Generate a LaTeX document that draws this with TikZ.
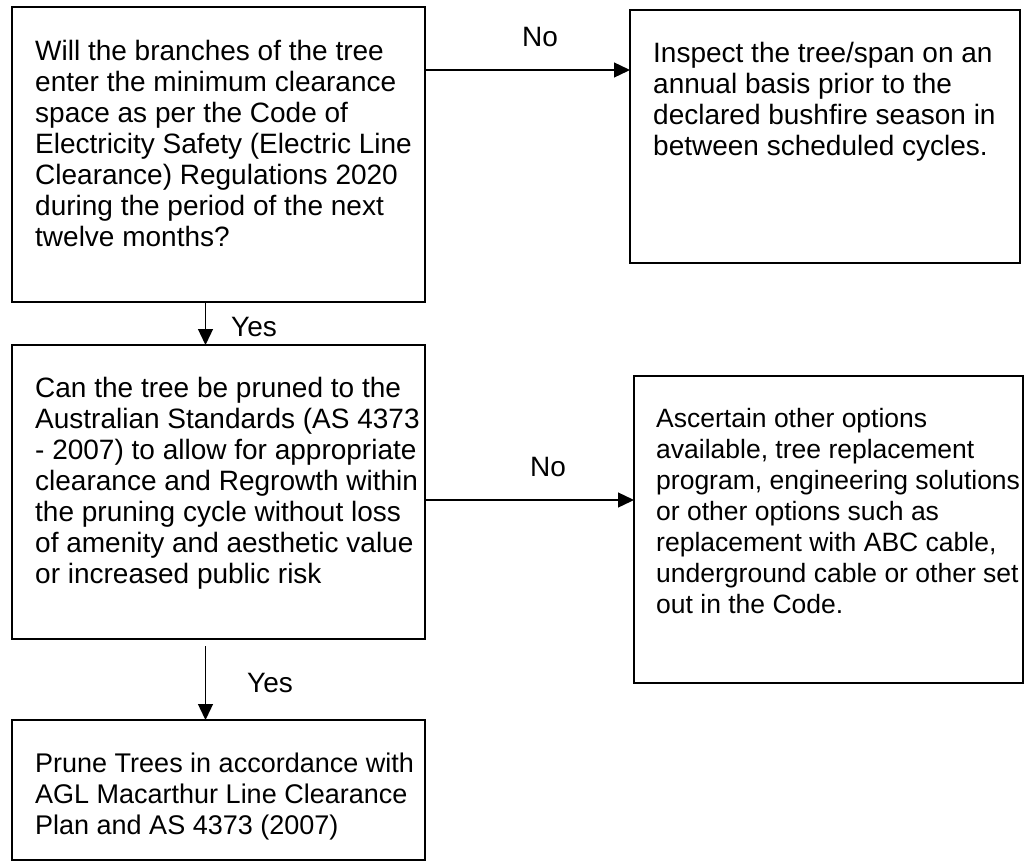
\documentclass[tikz,border=0pt]{standalone}
\usepackage{fontspec}
\setmainfont{Liberation Sans}
\usetikzlibrary{arrows.meta}

\tikzset{
  box/.style={draw,line width=1.7pt,anchor=north west,inner sep=0pt,outer sep=0pt},
  txt/.style={anchor=north west,inner sep=0pt,align=left,font=\fontsize{28}{31}\selectfont},
  lbl/.style={inner sep=0pt,font=\fontsize{28}{31}\selectfont},
  arr/.style={line width=1.3pt,-{Triangle[length=16pt,width=15pt]}}
}

\begin{document}
\begin{tikzpicture}[x=1pt,y=1pt,yscale=-1,xscale=1]
\path[use as bounding box] (0,0) rectangle (1033,865);

%Shape: Rectangle [question 1]
\node[box,minimum width=413pt,minimum height=295pt] (q1) at (12,7) {};
%Shape: Rectangle [answer no 1]
\node[box,minimum width=390pt,minimum height=253pt] (a1) at (630,10) {};
%Shape: Rectangle [question 2]
\node[box,minimum width=413pt,minimum height=294pt] (q2) at (12,345) {};
%Shape: Rectangle [answer no 2]
\node[box,minimum width=389pt,minimum height=307pt] (a2) at (634,376) {};
%Shape: Rectangle [prune]
\node[box,minimum width=413pt,minimum height=140pt] (p1) at (12,720) {};

% Text Node
\node[txt] (q1t) at ([xshift=23pt,yshift=33pt]q1.north west) {Will the branches of the tree\\enter the minimum clearance\\space as per the Code of\\Electricity Safety (Electric Line\\Clearance) Regulations 2020\\during the period of the next\\twelve months?};
% Text Node
\node[txt] (a1t) at ([xshift=23pt,yshift=32pt]a1.north west) {Inspect the tree/span on an\\annual basis prior to the\\declared bushfire season in\\between scheduled cycles.};
% Text Node
\node[txt] (q2t) at ([xshift=23pt,yshift=32pt]q2.north west) {Can the tree be pruned to the\\Australian Standards (AS 4373\\- 2007) to allow for appropriate\\clearance and Regrowth within\\the pruning cycle without loss\\of amenity and aesthetic value\\or increased public risk};
% Text Node
\node[txt,font=\fontsize{26.5}{31}\selectfont] (a2t) at ([xshift=22pt,yshift=32pt]a2.north west) {Ascertain other options\\available, tree replacement\\program, engineering solutions\\or other options such as\\replacement with ABC cable,\\underground cable or other set\\out in the Code.};
% Text Node
\node[txt,font=\fontsize{27}{31}\selectfont] (p1t) at ([xshift=23pt,yshift=33pt]p1.north west) {Prune Trees in accordance with\\AGL Macarthur Line Clearance\\Plan and AS 4373 (2007)};

%Straight Lines
\coordinate (no1) at ([yshift=63pt]q1.north east);
\draw[arr] (no1) -- (no1 -| a1.west);
\coordinate (yes1) at ([xshift=-13pt]q1.south);
\draw[arr] (yes1) -- (yes1 |- q2.north);
\coordinate (no2) at ([yshift=155pt]q2.north east);
\draw[arr] (no2) -- (no2 -| a2.west);
\coordinate (yes2) at ([xshift=-13pt,yshift=7pt]q2.south);
\draw[arr] (yes2) -- (yes2 |- p1.north);

% Text Node
\node[lbl] (no1l) at (540,37) {No};
\node[lbl] (yes1l) at (254,327) {Yes};
\node[lbl] (no2l) at (548,467) {No};
\node[lbl] (yes2l) at (270,683) {Yes};

\end{tikzpicture}
\end{document}
